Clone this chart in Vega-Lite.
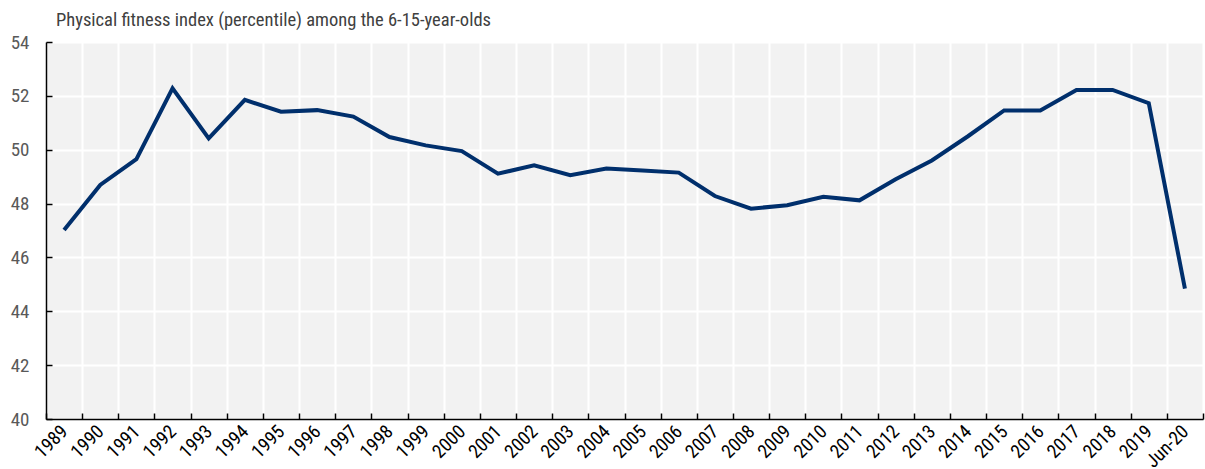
{
  "$schema": "https://vega.github.io/schema/vega-lite/v6.json",
  "width": 1157,
  "height": 377,
  "autosize": {"type": "none"},
  "padding": {"left": 46, "top": 42, "right": 2, "bottom": 50},
  "background": "white",
  "title": {
    "text": "Physical fitness index (percentile) among the 6-15-year-olds",
    "anchor": "start",
    "frame": "group",
    "dx": 10,
    "offset": 4,
    "font": "Roboto Condensed",
    "fontSize": 18.5,
    "fontWeight": "normal",
    "color": "#404040"
  },
  "config": {
    "view": {"fill": "#f2f2f2", "stroke": null},
    "font": "Roboto Condensed"
  },
  "data": {
    "values": [
      {"year": "1989", "value": 47.02},
      {"year": "1990", "value": 48.69},
      {"year": "1991", "value": 49.65},
      {"year": "1992", "value": 52.28},
      {"year": "1993", "value": 50.42},
      {"year": "1994", "value": 51.85},
      {"year": "1995", "value": 51.41},
      {"year": "1996", "value": 51.47},
      {"year": "1997", "value": 51.23},
      {"year": "1998", "value": 50.47},
      {"year": "1999", "value": 50.16},
      {"year": "2000", "value": 49.95},
      {"year": "2001", "value": 49.11},
      {"year": "2002", "value": 49.42},
      {"year": "2003", "value": 49.05},
      {"year": "2004", "value": 49.3},
      {"year": "2005", "value": 49.23},
      {"year": "2006", "value": 49.15},
      {"year": "2007", "value": 48.28},
      {"year": "2008", "value": 47.81},
      {"year": "2009", "value": 47.94},
      {"year": "2010", "value": 48.25},
      {"year": "2011", "value": 48.12},
      {"year": "2012", "value": 48.9},
      {"year": "2013", "value": 49.6},
      {"year": "2014", "value": 50.5},
      {"year": "2015", "value": 51.46},
      {"year": "2016", "value": 51.46},
      {"year": "2017", "value": 52.22},
      {"year": "2018", "value": 52.22},
      {"year": "2019", "value": 51.73},
      {"year": "Jun-20", "value": 44.84}
    ]
  },
  "mark": {"type": "line", "color": "#002f6c", "strokeWidth": 4},
  "encoding": {
    "x": {
      "field": "year",
      "type": "ordinal",
      "sort": null,
      "scale": {"type": "band", "paddingInner": 0, "paddingOuter": 0},
      "axis": {
        "title": null,
        "tickBand": "extent",
        "grid": true,
        "gridColor": "white",
        "gridWidth": 2,
        "domainColor": "black",
        "domainWidth": 1.5,
        "tickColor": "black",
        "tickSize": -6,
        "tickWidth": 1.5,
        "labelAngle": -45,
        "labelAlign": "right",
        "labelBaseline": "middle",
        "labelPadding": 15,
        "labelFontSize": 19,
        "labelColor": "black"
      }
    },
    "y": {
      "field": "value",
      "type": "quantitative",
      "scale": {"domain": [40, 54], "nice": false, "zero": false},
      "axis": {
        "title": null,
        "values": [40, 42, 44, 46, 48, 50, 52, 54],
        "grid": true,
        "gridColor": "white",
        "gridWidth": 2,
        "domainColor": "black",
        "domainWidth": 1.5,
        "tickColor": "black",
        "tickSize": -6,
        "tickWidth": 1.5,
        "labelFontSize": 19,
        "labelColor": "#595959",
        "labelPadding": 23
      }
    }
  }
}
